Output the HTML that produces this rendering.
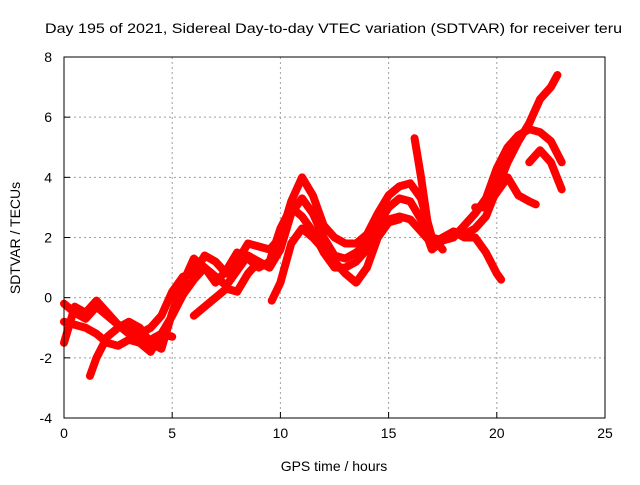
<!DOCTYPE html>
<html><head><meta charset="utf-8"><style>
body{margin:0;background:#fff}
svg text{font-family:"Liberation Sans",sans-serif;font-size:14px;fill:#000}
</style></head><body>
<svg id="chart" width="640" height="480" xmlns="http://www.w3.org/2000/svg">
<rect width="640" height="480" fill="#fff"/>
<text x="45" y="33" textLength="577" lengthAdjust="spacingAndGlyphs">Day 195 of 2021, Sidereal Day-to-day VTEC variation (SDTVAR) for receiver teru</text>
<text x="334" y="471" text-anchor="middle">GPS time / hours</text>
<text transform="translate(20,238) rotate(-90)" text-anchor="middle">SDTVAR / TECUs</text>
<g id="grid"></g><g id="ticks"></g><g id="series"></g>
<rect x="64" y="57" width="541" height="361" fill="none" stroke="#000"/>
</svg>
<script>
const xTicks=[0,5,10,15,20,25];
const yTicks=[-4,-2,0,2,4,6,8];
const s1x=[0,0.5,1,1.5,2,2.5,3,3.5,4,4.5,5,5.5,6,6.5,7,7.5,8,8.5,9,9.5,10,10.5,11,11.5,12,12.5,13,13.5,14,14.5,15,15.5,16,16.5,17,17.5,18,18.5,19,19.5,20,20.5,21,21.5,22,22.5,22.8];
const s1y=[-0.2,-0.5,-0.7,-0.3,-0.6,-0.9,-1.0,-1.2,-1.0,-0.6,0.2,0.7,0.8,1.4,1.2,0.8,1.2,1.8,1.7,1.6,2.0,3.2,4.0,3.4,2.4,2.0,1.8,1.8,2.1,2.8,3.4,3.7,3.8,3.3,2.0,1.9,2.2,2.1,2.3,2.7,3.6,4.5,5.2,5.8,6.6,7.0,7.4];
const s2x=[0,0.5,1,1.5,2,2.5,3,3.5,4,4.5,5,5.5,6,6.5,7,7.5,8,8.5,9,9.5,10,10.5,11,11.5,12,12.5,13,13.5,14,14.5,15,15.5,16,16.5,17,17.5,18,18.5,19,19.5,20,20.5,21,21.5,22,22.5,23];
const s2y=[-0.8,-0.9,-1.0,-1.2,-1.5,-1.6,-1.4,-1.5,-1.8,-1.2,-0.6,0.1,0.6,1.0,0.7,0.4,0.9,1.4,1.2,1.0,1.6,2.8,3.3,2.8,2.0,1.4,1.3,1.5,1.8,2.4,3.0,3.3,3.2,2.6,1.6,1.9,2.0,2.4,2.8,3.3,4.3,5.0,5.4,5.6,5.5,5.2,4.5];
const s3x=[1.2,1.5,2,2.5,3,3.5,4,4.5,5,5.5,6,6.5,7,7.5,8,8.5,9,9.5,10,10.5,11,11.5,12,12.5,13,13.5,14,14.5,15,15.5,16,16.5,17,17.5,18,18.5,19,19.5,20,20.2];
const s3y=[-2.6,-2.0,-1.3,-1.0,-0.8,-1.0,-1.5,-1.7,-0.5,0.5,1.3,1.0,0.5,0.9,1.5,1.3,1.0,1.2,2.3,3.0,2.7,2.2,1.5,1.0,1.0,1.2,1.6,2.2,2.6,2.7,2.6,2.2,1.8,2.0,2.2,2.0,2.0,1.5,0.8,0.6];
const s4x=[0,0.5,1,1.5,2,2.5,3,3.5,4,4.5,5];
const s4y=[-1.5,-0.3,-0.5,-0.1,-0.5,-0.9,-1.2,-1.4,-1.4,-1.2,-1.3];
const s5x=[6,6.5,7,7.5,8,8.5,9,9.5];
const s5y=[-0.6,-0.3,0.0,0.3,0.2,0.8,1.2,1.0];
const s6x=[9.6,10,10.5,11,11.5,12,12.5,13,13.5,14,14.5,15,15.5];
const s6y=[-0.1,0.5,1.8,2.3,2.0,1.6,1.2,0.8,0.5,1.0,2.0,2.5,2.6];
const s7x=[16.2,16.5,16.8,17,17.5];
const s7y=[5.3,4.0,2.5,2.0,1.6];
const s8x=[19,19.5,20,20.5,21,21.5,21.8];
const s8y=[3.0,3.0,3.5,4.0,3.4,3.2,3.1];
const s9x=[21.5,22,22.5,23];
const s9y=[4.5,4.9,4.5,3.6];
const allSeries=[[s1x,s1y],[s2x,s2y],[s3x,s3y],[s4x,s4y],[s5x,s5y],[s6x,s6y],[s7x,s7y],[s8x,s8y],[s9x,s9y]];
const X=v=>64+v*(541/25), Y=v=>418-(v+4)*(361/12);
const NS="http://www.w3.org/2000/svg";
const g=document.getElementById('grid'),t=document.getElementById('ticks'),s=document.getElementById('series');
function mk(tag,at,par){const e=document.createElementNS(NS,tag);for(const k in at)e.setAttribute(k,at[k]);par.appendChild(e);return e;}
xTicks.forEach(v=>{
 if(v>0&&v<25){const l=mk('line',{x1:X(v),x2:X(v),y1:57,y2:418,stroke:'#a0a0a0','stroke-dasharray':'2,3'},g);
 
 }
 mk('line',{x1:X(v),x2:X(v),y1:418,y2:412,stroke:'#000'},t);
 const tx=mk('text',{x:X(v),y:438,'text-anchor':'middle'},t);tx.textContent=v;
 
 
});
yTicks.forEach(v=>{
 if(v>-4&&v<8){const l=mk('line',{x1:64,x2:605,y1:Y(v),y2:Y(v),stroke:'#a0a0a0','stroke-dasharray':'2,3'},g);
 
 }
 mk('line',{x1:64,x2:70,y1:Y(v),y2:Y(v),stroke:'#000'},t);
 const tx=mk('text',{x:52,y:Y(v)+5,'text-anchor':'end'},t);tx.textContent=v;
 
 
});
allSeries.forEach((sr,i)=>{
 const pts=sr[0].map((x,j)=>X(x)+','+Y(sr[1][j])).join(' ');
 const p=mk('polyline',{points:pts,fill:'none',stroke:'#ff0000','stroke-width':8,'stroke-linejoin':'round','stroke-linecap':'round'},s);
 
 
});
</script>
</body></html>
